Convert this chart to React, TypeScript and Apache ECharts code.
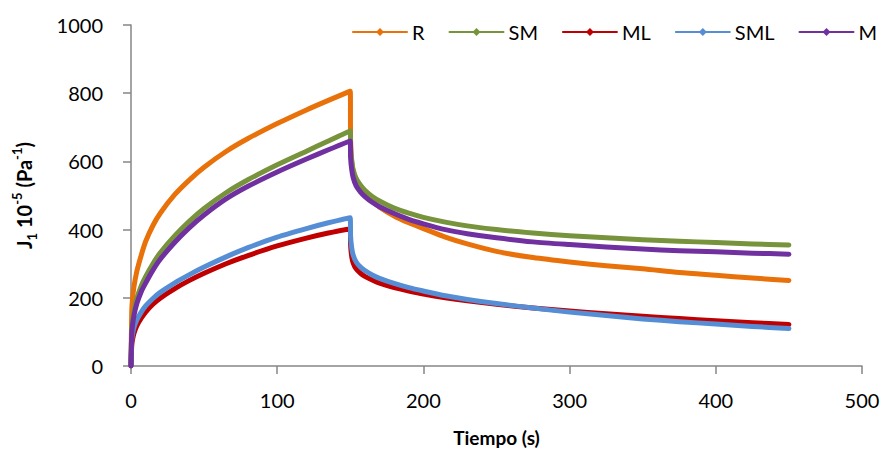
import React, { useEffect, useRef } from "react";
import * as echarts from "echarts";

const seriesNames = ["R", "SM", "ML", "SML", "M"];
const colors = ["#E8710A", "#77933C", "#C00000", "#558ED5", "#7030A0"];

const times = [
  0, 0.5, 1, 2, 4, 7, 10, 15, 20, 30, 40, 50, 65, 80, 100, 120, 135, 150,
  150.2, 151, 152, 154, 157, 160, 165, 170, 180, 190, 200, 215, 230, 250, 275,
  300, 325, 350, 375, 400, 425, 450,
];

const valuesR = [
  0, 160, 195, 232, 278, 325, 365, 412, 448, 503, 546, 583, 629, 667, 711, 751, 779, 806,
  660, 600, 570, 545, 525, 505, 484, 466, 440, 420, 403, 378, 358, 336, 318,
  305, 294, 285, 274, 266, 258, 251,
];
const valuesSM = [
  0, 105, 130, 160, 198, 235, 262, 300, 332, 382, 425, 462, 508, 546, 590, 630, 660, 689,
  640, 600, 575, 550, 530, 515, 497, 484, 463, 448, 436, 422, 411, 400, 390,
  382, 376, 370, 366, 362, 358, 355,
];
const valuesML = [
  0, 60, 76, 95, 118, 140, 158, 181, 199, 227, 251, 272, 300, 324, 352, 375, 390, 402,
  355, 320, 302, 285, 272, 263, 252, 243, 230, 220, 211, 200, 191, 181, 170,
  161, 153, 146, 139, 133, 127, 122,
];
const valuesSML = [
  0, 75, 92, 112, 135, 158, 176, 198, 216, 244, 268, 290, 320, 347, 378, 403, 420, 435,
  380, 345, 325, 305, 290, 280, 267, 257, 242, 230, 220, 206, 195, 183, 170,
  158, 148, 138, 130, 123, 116, 110,
];
const valuesM = [
  0, 95, 118, 147, 183, 218, 243, 281, 313, 363, 406, 443, 490, 527, 569, 607, 634, 660,
  610, 575, 552, 528, 510, 497, 480, 467, 447, 430, 417, 400, 388, 376, 364,
  356, 349, 343, 338, 335, 331, 328,
];

const allValues = [valuesR, valuesSM, valuesML, valuesSML, valuesM];

const xTicks = [0, 100, 200, 300, 400, 500];
const yTicks = [0, 200, 400, 600, 800, 1000];

const FONT = "Lato, 'Open Sans', sans-serif";

export default function App() {
  const ref = useRef<HTMLDivElement>(null);

  useEffect(() => {
    if (!ref.current) return;
    const chart = echarts.init(ref.current, undefined, { renderer: "svg" });
    const axisLine = { show: true, lineStyle: { color: "#868686", width: 1.5 } };
    const axisTick = { show: true, length: 8, lineStyle: { color: "#868686", width: 1.5 } };
    chart.setOption({
      animation: false,
      backgroundColor: "#ffffff",
      textStyle: { fontFamily: FONT },
      grid: { left: 131, right: 25, top: 25, bottom: 85, containLabel: false },
      legend: {
        top: 17,
        left: 347,
        width: 600,
        itemWidth: 54,
        itemHeight: 10,
        itemGap: 24,
        textStyle: { fontFamily: FONT, fontSize: 20, color: "#000" },
        data: seriesNames,
      },
      xAxis: {
        type: "value",
        min: xTicks[0],
        max: xTicks[xTicks.length - 1],
        interval: 100,
        name: "Tiempo (s)",
        nameLocation: "middle",
        nameGap: 62,
        nameTextStyle: { fontFamily: FONT, fontSize: 19, fontWeight: "bold", color: "#000" },
        axisLine,
        axisTick,
        axisLabel: { fontFamily: FONT, fontSize: 20, color: "#000", margin: 24 },
        splitLine: { show: false },
      },
      yAxis: {
        type: "value",
        min: yTicks[0],
        max: yTicks[yTicks.length - 1],
        interval: 200,
        name: "{b|J}{sub|1}{b| 10}{sup|-5}{b| (Pa}{sup|-1}{b|)}",
        nameLocation: "middle",
        nameRotate: 90,
        nameGap: 93,
        nameTextStyle: {
          rich: {
            b: { fontFamily: FONT, fontSize: 20, fontWeight: "bold", color: "#000", lineHeight: 28, verticalAlign: "middle" },
            sub: { fontFamily: FONT, fontSize: 13, fontWeight: "bold", color: "#000", lineHeight: 19, verticalAlign: "bottom" },
            sup: { fontFamily: FONT, fontSize: 13, fontWeight: "bold", color: "#000", lineHeight: 17, verticalAlign: "top" },
          },
        },
        axisLine,
        axisTick,
        axisLabel: {
          fontFamily: FONT,
          fontSize: 20,
          color: "#000",
          margin: 28,
          formatter: (v: number) => String(v),
        },
        splitLine: { show: false },
      },
      series: seriesNames.map((name, i) => ({
        name,
        type: "line",
        data: times.map((t, j) => [t, allValues[i][j]]),
        showSymbol: false,
        symbol: "diamond",
        symbolSize: 6,
        smooth: 0.25,
        color: colors[i],
        lineStyle: { color: colors[i], width: 5, cap: "round", join: "round" },
        itemStyle: { color: colors[i] },
      })),
    });
    return () => chart.dispose();
  }, []);

  return (
    <div
      ref={ref}
      style={{ position: "fixed", left: 0, top: 0, width: 887, height: 452 }}
    />
  );
}
